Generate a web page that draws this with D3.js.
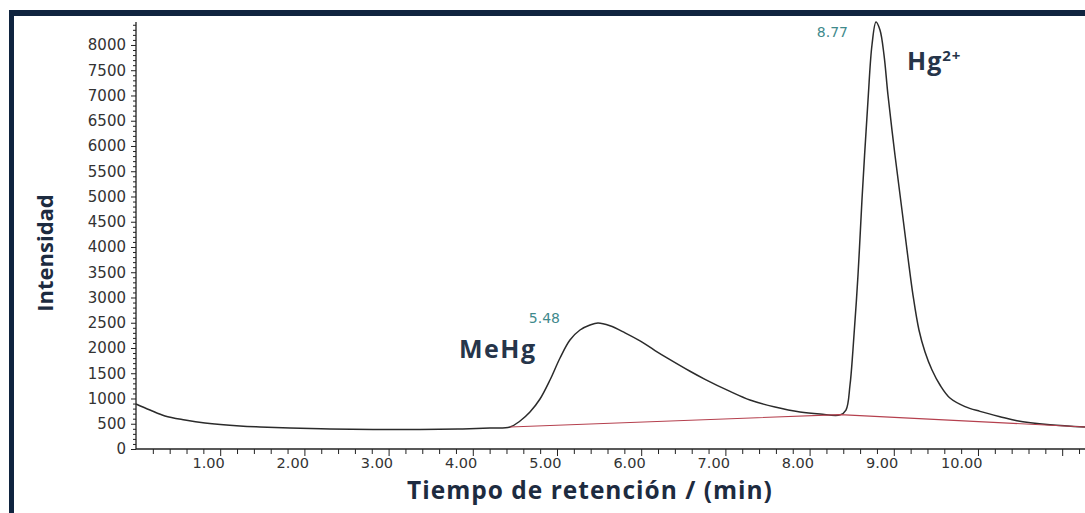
<!DOCTYPE html>
<html>
<head>
<meta charset="utf-8">
<script src="https://cdn.jsdelivr.net/npm/d3@7"></script>
<style>
  html, body { margin: 0; padding: 0; background: #fff; }
  svg { display: block; }
</style>
</head>
<body>
<svg id="chart" width="1085" height="513"></svg>
<script>
// Retention time (min) of the chromatogram trace
const times = [0.00, 0.166, 0.344, 0.582, 0.819, 1.235, 1.473, 1.829, 2.304, 2.815, 3.373, 3.824, 4.204, 4.442,
  4.561, 4.679, 4.798, 4.917, 5.036, 5.154, 5.273, 5.392, 5.487,
  5.629, 5.808, 5.986, 6.164, 6.342, 6.580, 6.758, 7.055, 7.292, 7.589, 7.886, 8.124, 8.361,
  8.432, 8.480, 8.515, 8.575, 8.622, 8.694, 8.741, 8.789,
  8.836, 8.884, 8.931, 9.014, 9.097, 9.169, 9.228, 9.299, 9.371, 9.454, 9.549, 9.667, 9.846,
  10.024, 10.261, 10.463, 10.855, 11.271];
// Intensity of the trace
const intensity = [891, 772, 653, 574, 515, 455, 436, 416, 396, 386, 386, 396, 416, 436,
  554, 733, 990, 1366, 1802, 2158, 2356, 2455, 2495,
  2440, 2300, 2140, 1950, 1770, 1540, 1380, 1140, 970, 832, 733, 693, 675,
  772, 1267, 1960, 3445, 4930, 6910, 8000, 8455,
  8296, 7801, 7009, 5821, 4732, 3782, 3049, 2356, 1921, 1564, 1267, 1010, 840,
  745, 640, 560, 482, 436];
// Integration baseline
const baseTimes = [4.442, 8.361, 11.271];
const baseIntensity = [436, 680, 436];
// Axis ticks
const yTicks = [0, 500, 1000, 1500, 2000, 2500, 3000, 3500, 4000, 4500, 5000, 5500, 6000, 6500, 7000, 7500, 8000];
const xTickLabels = ["1.00", "2.00", "3.00", "4.00", "5.00", "6.00", "7.00", "8.00", "9.00", "10.00"];
const xTickValues = [1, 2, 3, 4, 5, 6, 7, 8, 9, 10];
// Peak annotations
const peakLabels = ["5.48", "8.77"];
const compoundNames = ["MeHg", "Hg"];

const svg = d3.select("#chart");
const W = 1085, H = 513;
const x = d3.scaleLinear().domain([0, 11.271]).range([136, 1085]);
const y = d3.scaleLinear().domain([0, 8455]).range([449, 22]);

// frame
const navy = "#10243f";
svg.append("rect").attr("x", 9).attr("y", 10).attr("width", W - 9).attr("height", 6).attr("fill", navy);
svg.append("rect").attr("x", 9).attr("y", 10).attr("width", 5).attr("height", H - 10).attr("fill", navy);

const axisColor = "#222";
// y axis
const yAxis = svg.append("g").attr("transform", `translate(${x(0)},0)`)
  .call(d3.axisLeft(y).tickValues(d3.range(0, 8455, 100)).tickSize(3).tickFormat(""));
yAxis.select(".domain").remove();
yAxis.selectAll("line").attr("stroke", axisColor);
yAxis.selectAll(".tick").filter(d => d % 500 === 0).select("line").attr("x2", -5);
svg.append("line").attr("x1", x(0)).attr("x2", x(0)).attr("y1", y(8455)).attr("y2", y(0))
  .attr("stroke", axisColor).attr("stroke-width", 1.3);
const yLab = svg.append("g").attr("transform", `translate(${x(0)},0)`)
  .call(d3.axisLeft(y).tickValues(yTicks).tickSize(0).tickPadding(10).tickFormat(d3.format("d")));
yLab.select(".domain").remove();
yLab.selectAll("text").attr("font-family", "DejaVu Sans").attr("font-size", 15).attr("fill", "#333");

// x axis
const xAxis = svg.append("g").attr("transform", `translate(0,${y(0)})`)
  .call(d3.axisBottom(x).tickValues(d3.range(0.2, 11.28, 0.2)).tickSize(5).tickFormat(""));
xAxis.select(".domain").remove();
xAxis.selectAll("line").attr("stroke", axisColor);
xAxis.selectAll(".tick").filter(d => Math.abs(d - Math.round(d)) < 1e-6).select("line").attr("y2", 7);
svg.append("line").attr("x1", x(0)).attr("x2", W).attr("y1", y(0)).attr("y2", y(0))
  .attr("stroke", axisColor).attr("stroke-width", 1.3);
const xLab = svg.append("g").attr("transform", `translate(0,${y(0)})`)
  .call(d3.axisBottom(x).tickValues(xTickValues).tickSize(0).tickPadding(9)
    .tickFormat((d, i) => xTickLabels[i]));
xLab.select(".domain").remove();
xLab.selectAll("text").attr("font-family", "DejaVu Sans").attr("font-size", 14.5).attr("fill", "#333")
  .attr("text-anchor", "end").attr("dx", 4);

// baseline & trace
const pts = times.map((t, i) => [t, intensity[i]]);
const basePts = baseTimes.map((t, i) => [t, baseIntensity[i]]);
const line = d3.line().x(d => x(d[0])).y(d => y(d[1])).curve(d3.curveCatmullRom.alpha(0.5));
svg.append("path").datum(pts).attr("d", line).attr("fill", "none").attr("stroke", "#2b2b2b").attr("stroke-width", 1.5);
svg.append("path").datum(basePts).attr("d", d3.line().x(d => x(d[0])).y(d => y(d[1])))
  .attr("fill", "none").attr("stroke", "#b5404e").attr("stroke-width", 1.1);

// titles
const titleColor = "#1d2b40";
svg.append("text").attr("transform", `translate(53,253) rotate(-90)`).attr("text-anchor", "middle")
  .attr("font-family", "Open Sans").attr("font-weight", "bold").attr("font-size", 22).attr("fill", titleColor)
  .text("Intensidad");
svg.append("text").attr("x", 590).attr("y", 499).attr("text-anchor", "middle")
  .attr("font-family", "Open Sans").attr("font-weight", "bold").attr("font-size", 24.5)
  .attr("letter-spacing", 1).attr("fill", titleColor)
  .text("Tiempo de retención / (min)");

// peak labels
const teal = "#3f8a8c";
svg.append("text").attr("x", 560).attr("y", 323).attr("text-anchor", "end")
  .attr("font-family", "DejaVu Sans").attr("font-size", 14).attr("fill", teal).text(peakLabels[0]);
svg.append("text").attr("x", 848).attr("y", 37).attr("text-anchor", "end")
  .attr("font-family", "DejaVu Sans").attr("font-size", 14).attr("fill", teal).text(peakLabels[1]);

svg.append("text").attr("x", 459).attr("y", 358)
  .attr("font-family", "Open Sans").attr("font-weight", "bold").attr("font-size", 25)
  .attr("letter-spacing", 1.5).attr("fill", "#26354a")
  .text(compoundNames[0]);
const hg = svg.append("text").attr("x", 907).attr("y", 70)
  .attr("font-family", "Open Sans").attr("font-weight", "bold").attr("font-size", 25)
  .attr("letter-spacing", 1).attr("fill", "#26354a");
hg.append("tspan").text(compoundNames[1]);
hg.append("tspan").attr("dy", -9).attr("font-size", 15).text("2+");
</script>
</body>
</html>
